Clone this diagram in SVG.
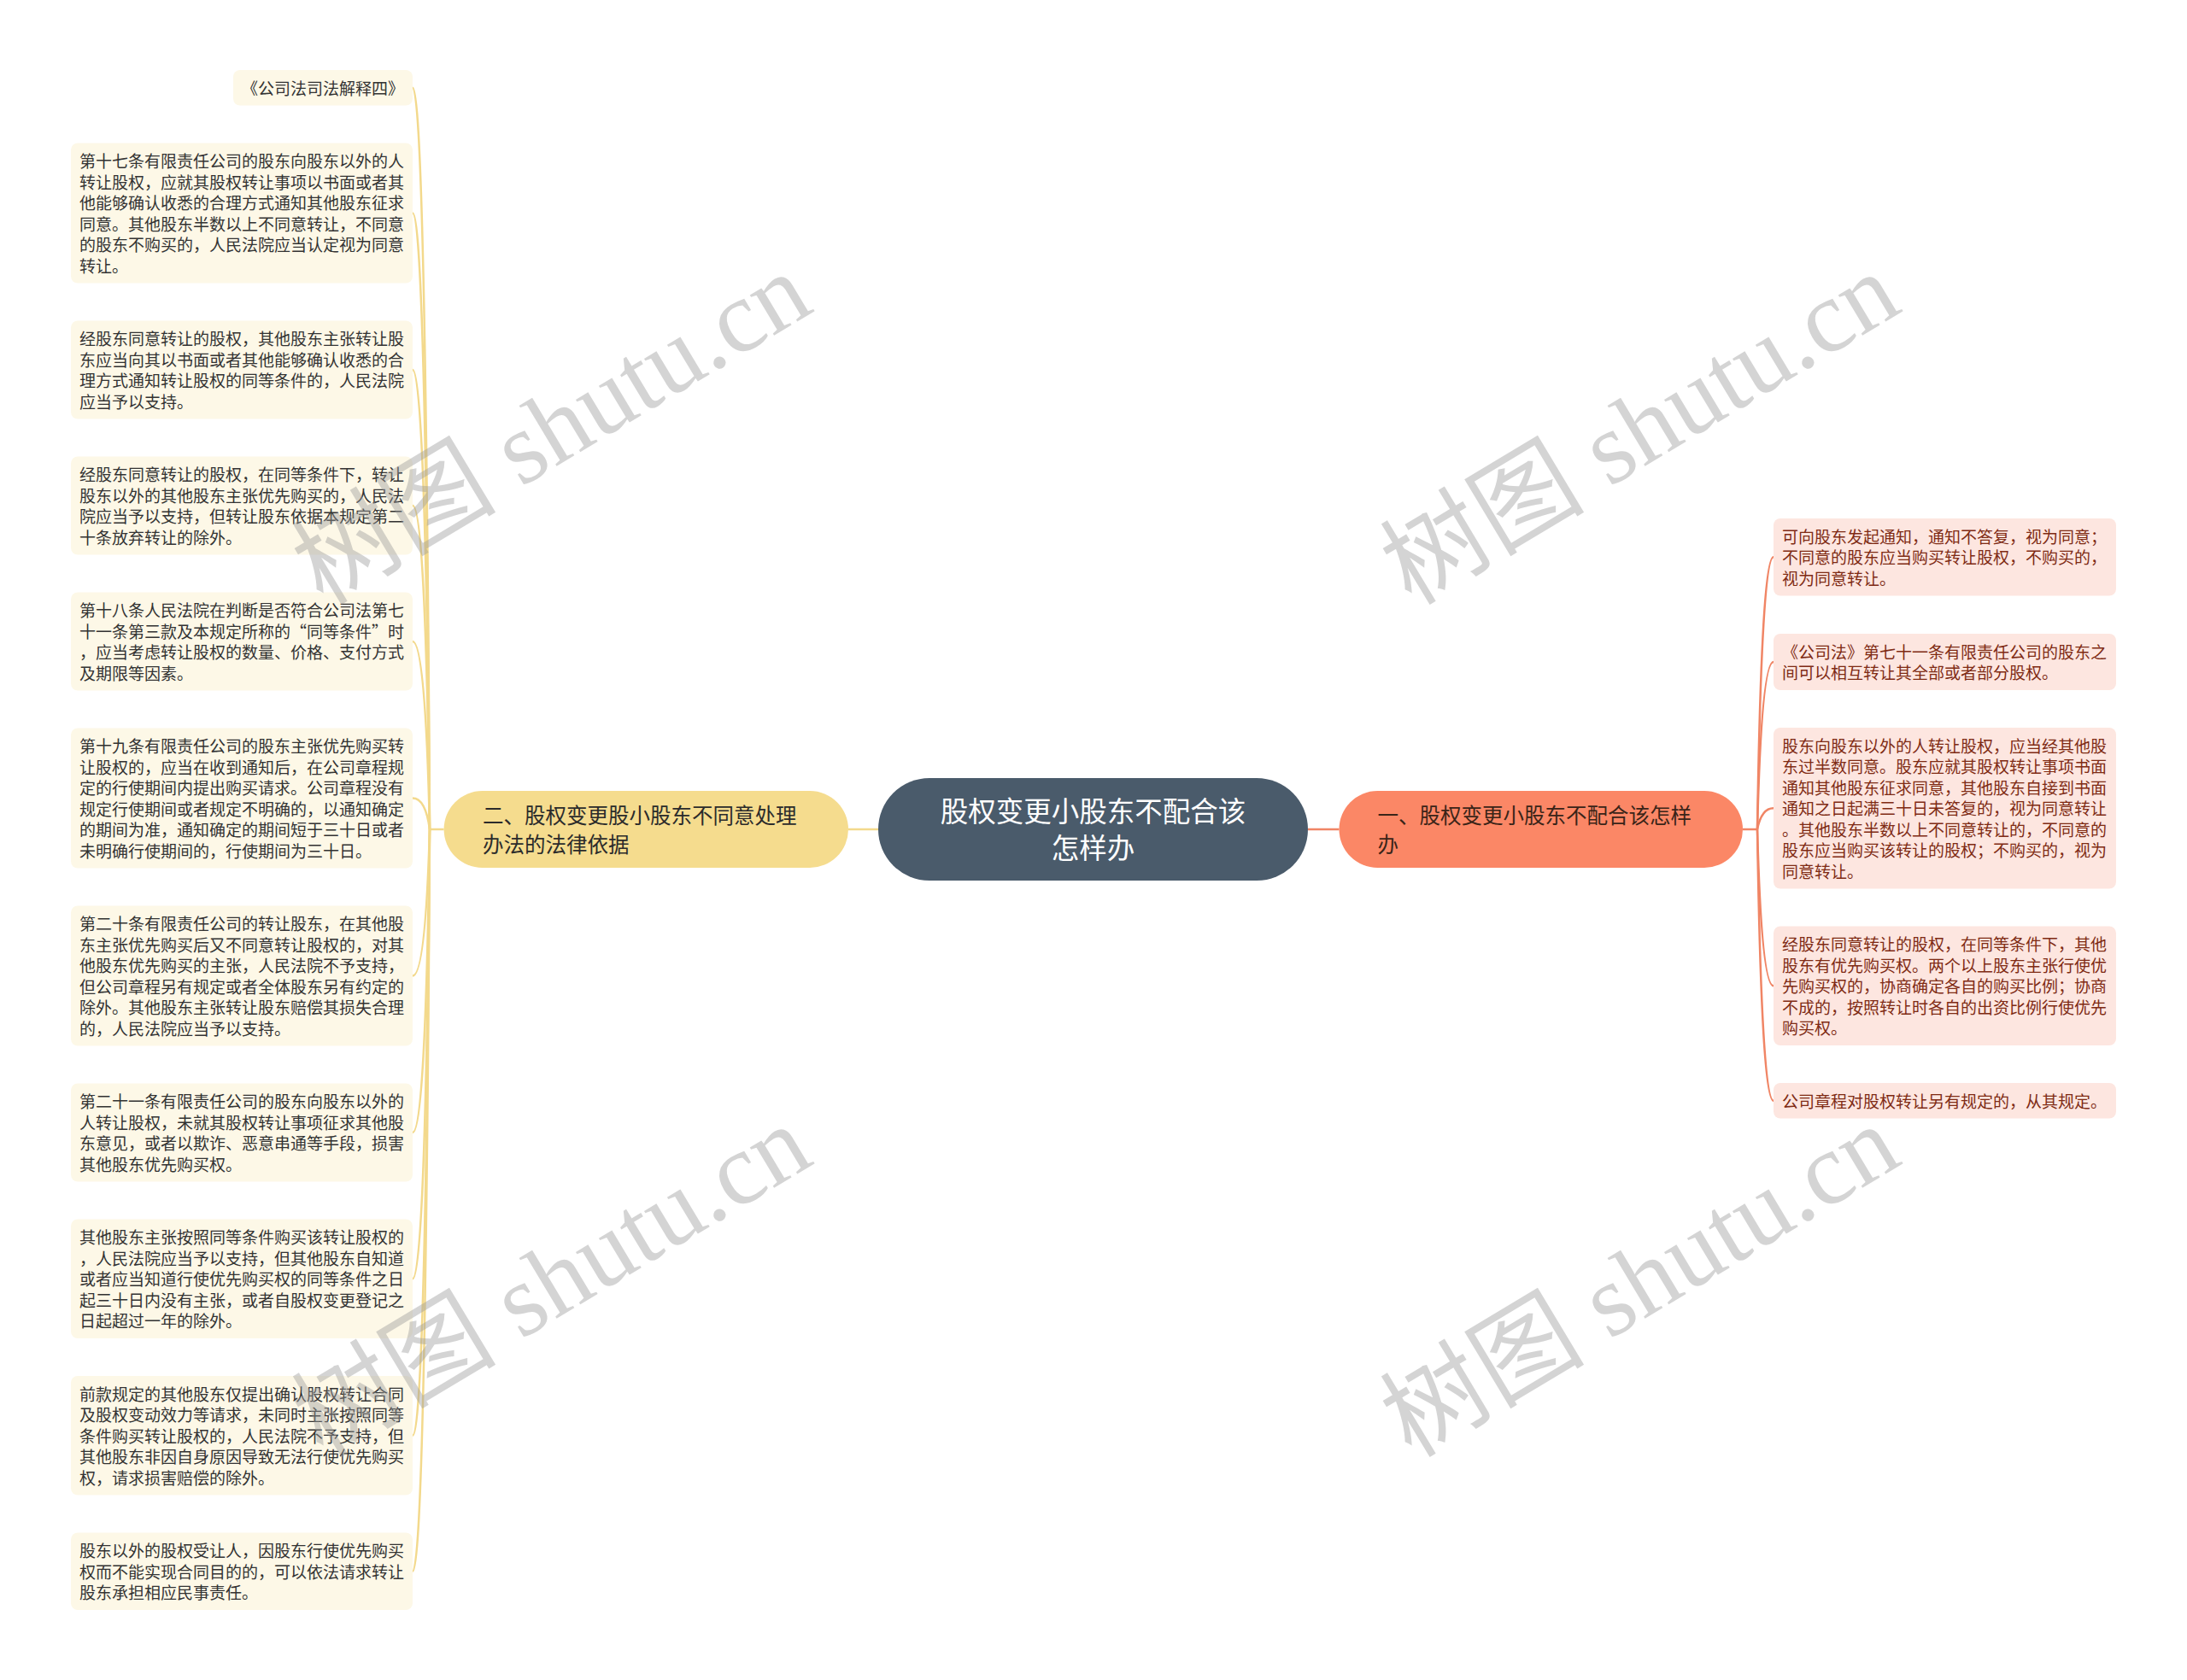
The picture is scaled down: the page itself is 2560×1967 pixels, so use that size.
<svg xmlns="http://www.w3.org/2000/svg" width="2560" height="1967" viewBox="0 0 2560 1967">
<style>
.t{font-family:"Noto Sans CJK SC","Liberation Sans",sans-serif}
.lb{fill:#fdf8e7}
.rb{fill:#fde6e0}
.lt{font-size:19px;fill:#333333}
.rt{font-size:19px;fill:#7f2b14}
.lc{fill:none;stroke:#f3d98c;stroke-width:2.5}
.rc{fill:none;stroke:#f08565;stroke-width:2.5}
.wm{font-family:"Liberation Serif","Noto Sans CJK SC",serif;font-size:120px;fill:#9a9a9a;opacity:0.42}
</style>
<rect width="2560" height="1967" fill="#ffffff"/>
<g id="connectors">
<path class="lc" d="M993,971 H1028"/>
<path class="rc" d="M1531,971 H1567.5"/>
<path class="lc" d="M519.6,971 H503"/>
<path class="lc" d="M503,971 Q498,102.75 483,102.75"/>
<path class="lc" d="M503,971 Q498,249.5 483,249.5"/>
<path class="lc" d="M503,971 Q498,433 483,433"/>
<path class="lc" d="M503,971 Q498,592 483,592"/>
<path class="lc" d="M503,971 Q498,751 483,751"/>
<path class="lc" d="M503,971 Q498,934.5 483,934.5"/>
<path class="lc" d="M503,971 Q498,1142.5 483,1142.5"/>
<path class="lc" d="M503,971 Q498,1326 483,1326"/>
<path class="lc" d="M503,971 Q498,1497.25 483,1497.25"/>
<path class="lc" d="M503,971 Q498,1680.75 483,1680.75"/>
<path class="lc" d="M503,971 Q498,1839.75 483,1839.75"/>
<path class="rc" d="M2040,971 H2057"/>
<path class="rc" d="M2057,971 Q2062,652.25 2076,652.25"/>
<path class="rc" d="M2057,971 Q2062,775 2076,775"/>
<path class="rc" d="M2057,971 Q2062,946.25 2076,946.25"/>
<path class="rc" d="M2057,971 Q2062,1154.25 2076,1154.25"/>
<path class="rc" d="M2057,971 Q2062,1288.75 2076,1288.75"/>
</g>
<g id="root">
<rect x="1028" y="911" width="503" height="120" rx="60" fill="#4a5b6b"/>
<text class="t" x="1279.5" y="962.4" font-size="32.5" fill="#ffffff" text-anchor="middle">股权变更小股东不配合该</text>
<text class="t" x="1279.5" y="1005.4" font-size="32.5" fill="#ffffff" text-anchor="middle">怎样办</text>
</g>
<g id="branch-left">
<rect x="519.6" y="926" width="473.4" height="90" rx="45" fill="#f5dc8e"/>
<text class="t" x="565" y="964.3" font-size="24.5" fill="#2b2b2b">二、股权变更股小股东不同意处理</text>
<text class="t" x="565" y="998.3" font-size="24.5" fill="#2b2b2b">办法的法律依据</text>
</g>
<g id="branch-right">
<rect x="1567.5" y="926" width="472.5" height="90" rx="45" fill="#fb8766"/>
<text class="t" x="1612.5" y="964.3" font-size="24.5" fill="#3a2418">一、股权变更小股东不配合该怎样</text>
<text class="t" x="1612.5" y="998.3" font-size="24.5" fill="#3a2418">办</text>
</g>
<g id="L1">
<rect class="lb" x="273" y="82" width="210" height="41.5" rx="8"/>
<text class="t lt" x="283" y="110.5">《公司法司法解释四》</text>
</g>
<g id="L2">
<rect class="lb" x="83" y="167.5" width="400" height="164" rx="8"/>
<text class="t lt" x="93" y="196">第十七条有限责任公司的股东向股东以外的人</text>
<text class="t lt" x="93" y="220.5">转让股权，应就其股权转让事项以书面或者其</text>
<text class="t lt" x="93" y="245">他能够确认收悉的合理方式通知其他股东征求</text>
<text class="t lt" x="93" y="269.5">同意。其他股东半数以上不同意转让，不同意</text>
<text class="t lt" x="93" y="294">的股东不购买的，人民法院应当认定视为同意</text>
<text class="t lt" x="93" y="318.5">转让。</text>
</g>
<g id="L3">
<rect class="lb" x="83" y="375.5" width="400" height="115" rx="8"/>
<text class="t lt" x="93" y="404">经股东同意转让的股权，其他股东主张转让股</text>
<text class="t lt" x="93" y="428.5">东应当向其以书面或者其他能够确认收悉的合</text>
<text class="t lt" x="93" y="453">理方式通知转让股权的同等条件的，人民法院</text>
<text class="t lt" x="93" y="477.5">应当予以支持。</text>
</g>
<g id="L4">
<rect class="lb" x="83" y="534.5" width="400" height="115" rx="8"/>
<text class="t lt" x="93" y="563">经股东同意转让的股权，在同等条件下，转让</text>
<text class="t lt" x="93" y="587.5">股东以外的其他股东主张优先购买的，人民法</text>
<text class="t lt" x="93" y="612">院应当予以支持，但转让股东依据本规定第二</text>
<text class="t lt" x="93" y="636.5">十条放弃转让的除外。</text>
</g>
<g id="L5">
<rect class="lb" x="83" y="693.5" width="400" height="115" rx="8"/>
<text class="t lt" x="93" y="722">第十八条人民法院在判断是否符合公司法第七</text>
<text class="t lt" x="93" y="746.5">十一条第三款及本规定所称的“同等条件”时</text>
<text class="t lt" x="93" y="771">，应当考虑转让股权的数量、价格、支付方式</text>
<text class="t lt" x="93" y="795.5">及期限等因素。</text>
</g>
<g id="L6">
<rect class="lb" x="83" y="852.5" width="400" height="164" rx="8"/>
<text class="t lt" x="93" y="881">第十九条有限责任公司的股东主张优先购买转</text>
<text class="t lt" x="93" y="905.5">让股权的，应当在收到通知后，在公司章程规</text>
<text class="t lt" x="93" y="930">定的行使期间内提出购买请求。公司章程没有</text>
<text class="t lt" x="93" y="954.5">规定行使期间或者规定不明确的，以通知确定</text>
<text class="t lt" x="93" y="979">的期间为准，通知确定的期间短于三十日或者</text>
<text class="t lt" x="93" y="1003.5">未明确行使期间的，行使期间为三十日。</text>
</g>
<g id="L7">
<rect class="lb" x="83" y="1060.5" width="400" height="164" rx="8"/>
<text class="t lt" x="93" y="1089">第二十条有限责任公司的转让股东，在其他股</text>
<text class="t lt" x="93" y="1113.5">东主张优先购买后又不同意转让股权的，对其</text>
<text class="t lt" x="93" y="1138">他股东优先购买的主张，人民法院不予支持，</text>
<text class="t lt" x="93" y="1162.5">但公司章程另有规定或者全体股东另有约定的</text>
<text class="t lt" x="93" y="1187">除外。其他股东主张转让股东赔偿其损失合理</text>
<text class="t lt" x="93" y="1211.5">的，人民法院应当予以支持。</text>
</g>
<g id="L8">
<rect class="lb" x="83" y="1268.5" width="400" height="115" rx="8"/>
<text class="t lt" x="93" y="1297">第二十一条有限责任公司的股东向股东以外的</text>
<text class="t lt" x="93" y="1321.5">人转让股权，未就其股权转让事项征求其他股</text>
<text class="t lt" x="93" y="1346">东意见，或者以欺诈、恶意串通等手段，损害</text>
<text class="t lt" x="93" y="1370.5">其他股东优先购买权。</text>
</g>
<g id="L9">
<rect class="lb" x="83" y="1427.5" width="400" height="139.5" rx="8"/>
<text class="t lt" x="93" y="1456">其他股东主张按照同等条件购买该转让股权的</text>
<text class="t lt" x="93" y="1480.5">，人民法院应当予以支持，但其他股东自知道</text>
<text class="t lt" x="93" y="1505">或者应当知道行使优先购买权的同等条件之日</text>
<text class="t lt" x="93" y="1529.5">起三十日内没有主张，或者自股权变更登记之</text>
<text class="t lt" x="93" y="1554">日起超过一年的除外。</text>
</g>
<g id="L10">
<rect class="lb" x="83" y="1611" width="400" height="139.5" rx="8"/>
<text class="t lt" x="93" y="1639.5">前款规定的其他股东仅提出确认股权转让合同</text>
<text class="t lt" x="93" y="1664">及股权变动效力等请求，未同时主张按照同等</text>
<text class="t lt" x="93" y="1688.5">条件购买转让股权的，人民法院不予支持，但</text>
<text class="t lt" x="93" y="1713">其他股东非因自身原因导致无法行使优先购买</text>
<text class="t lt" x="93" y="1737.5">权，请求损害赔偿的除外。</text>
</g>
<g id="L11">
<rect class="lb" x="83" y="1794.5" width="400" height="90.5" rx="8"/>
<text class="t lt" x="93" y="1823">股东以外的股权受让人，因股东行使优先购买</text>
<text class="t lt" x="93" y="1847.5">权而不能实现合同目的的，可以依法请求转让</text>
<text class="t lt" x="93" y="1872">股东承担相应民事责任。</text>
</g>
<g id="R1">
<rect class="rb" x="2076" y="607" width="401" height="90.5" rx="8"/>
<text class="t rt" x="2086" y="635.5">可向股东发起通知，通知不答复，视为同意；</text>
<text class="t rt" x="2086" y="660">不同意的股东应当购买转让股权，不购买的，</text>
<text class="t rt" x="2086" y="684.5">视为同意转让。</text>
</g>
<g id="R2">
<rect class="rb" x="2076" y="742" width="401" height="66" rx="8"/>
<text class="t rt" x="2086" y="770.5">《公司法》第七十一条有限责任公司的股东之</text>
<text class="t rt" x="2086" y="795">间可以相互转让其全部或者部分股权。</text>
</g>
<g id="R3">
<rect class="rb" x="2076" y="852" width="401" height="188.5" rx="8"/>
<text class="t rt" x="2086" y="880.5">股东向股东以外的人转让股权，应当经其他股</text>
<text class="t rt" x="2086" y="905">东过半数同意。股东应就其股权转让事项书面</text>
<text class="t rt" x="2086" y="929.5">通知其他股东征求同意，其他股东自接到书面</text>
<text class="t rt" x="2086" y="954">通知之日起满三十日未答复的，视为同意转让</text>
<text class="t rt" x="2086" y="978.5">。其他股东半数以上不同意转让的，不同意的</text>
<text class="t rt" x="2086" y="1003">股东应当购买该转让的股权；不购买的，视为</text>
<text class="t rt" x="2086" y="1027.5">同意转让。</text>
</g>
<g id="R4">
<rect class="rb" x="2076" y="1084.5" width="401" height="139.5" rx="8"/>
<text class="t rt" x="2086" y="1113">经股东同意转让的股权，在同等条件下，其他</text>
<text class="t rt" x="2086" y="1137.5">股东有优先购买权。两个以上股东主张行使优</text>
<text class="t rt" x="2086" y="1162">先购买权的，协商确定各自的购买比例；协商</text>
<text class="t rt" x="2086" y="1186.5">不成的，按照转让时各自的出资比例行使优先</text>
<text class="t rt" x="2086" y="1211">购买权。</text>
</g>
<g id="R5">
<rect class="rb" x="2076" y="1268" width="401" height="41.5" rx="8"/>
<text class="t rt" x="2086" y="1296.5">公司章程对股权转让另有规定的，从其规定。</text>
</g>
<g id="watermarks">
<text class="wm" transform="translate(378,710) rotate(-31)">树图 shutu.cn</text>
<text class="wm" transform="translate(1652,710) rotate(-31)">树图 shutu.cn</text>
<text class="wm" transform="translate(378,1708) rotate(-31)">树图 shutu.cn</text>
<text class="wm" transform="translate(1652,1708) rotate(-31)">树图 shutu.cn</text>
</g>
</svg>
